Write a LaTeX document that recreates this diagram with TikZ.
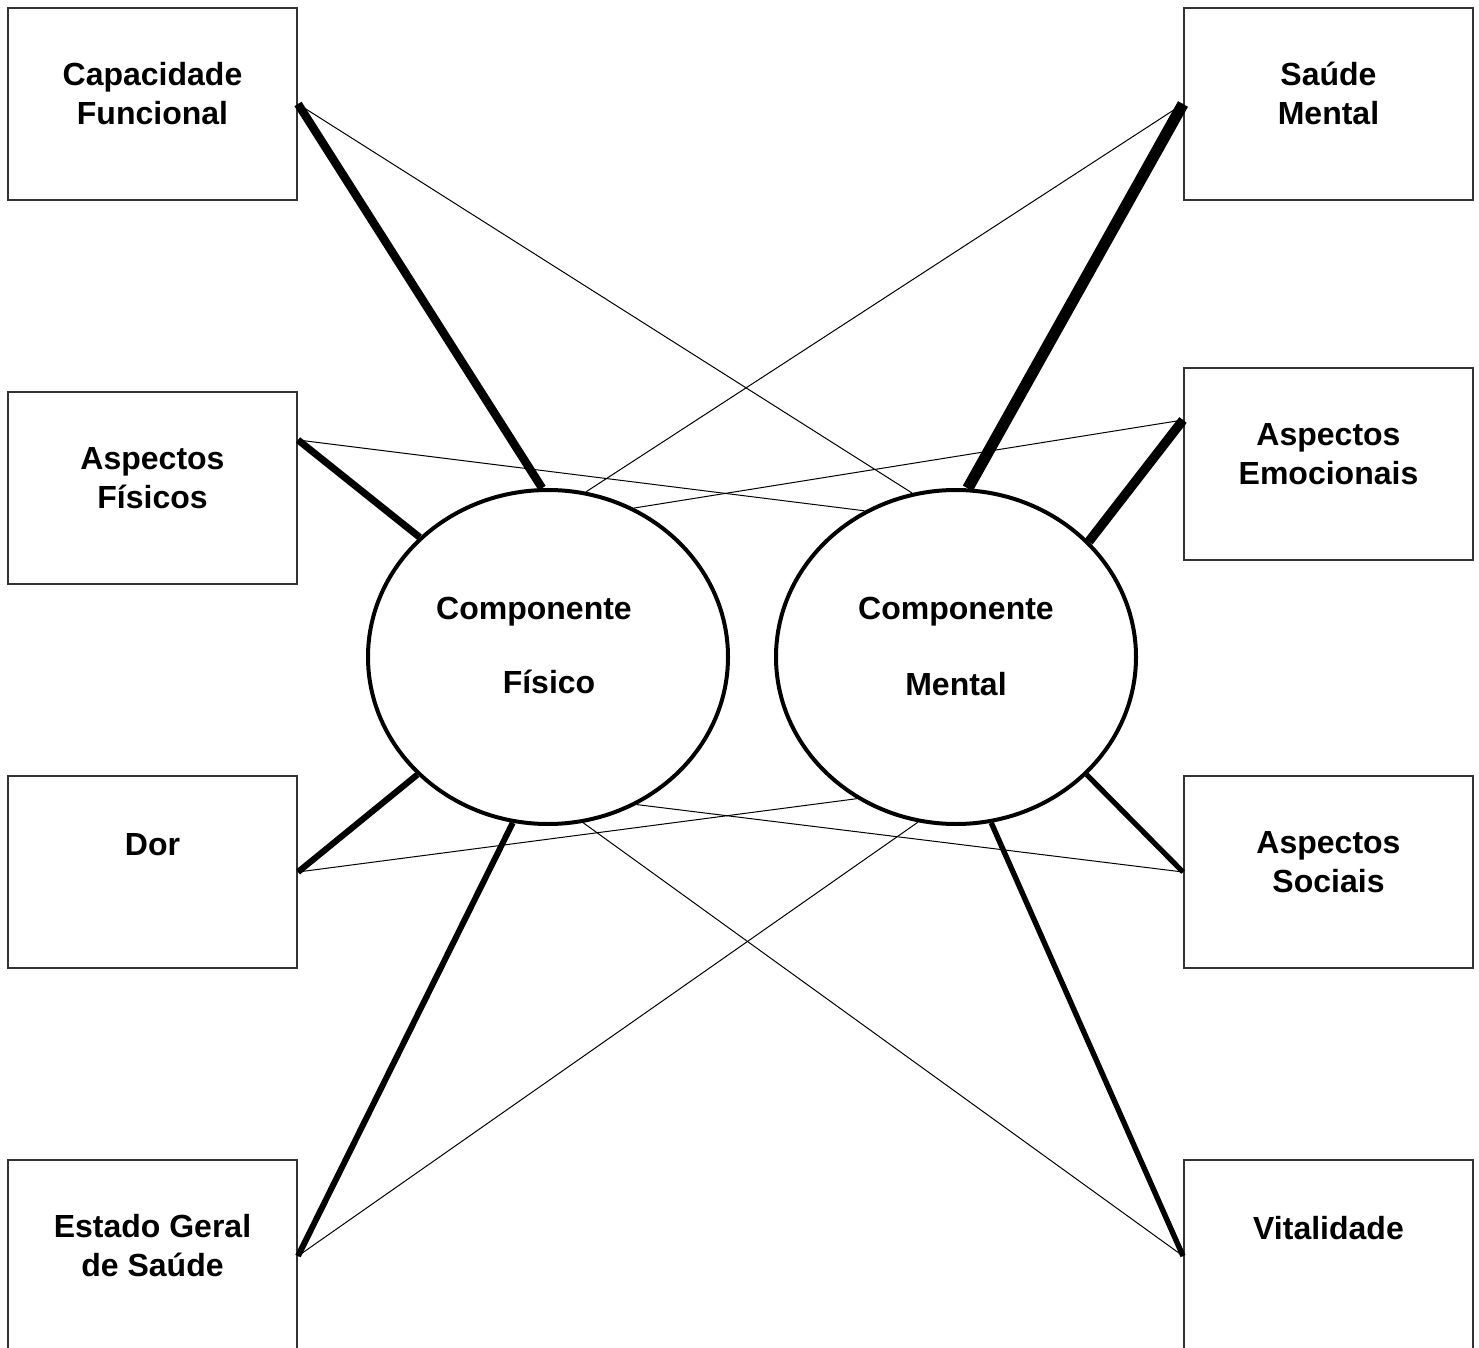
\documentclass[tikz,border=0pt]{standalone}
\usepackage{fontspec}
\setmainfont{Liberation Sans}
\usetikzlibrary{shapes.geometric}
\tikzset{
  box/.style={draw=black!80, line width=1pt, minimum width=144.5pt, minimum height=96pt, inner sep=0pt},
  comp/.style={ellipse, draw, line width=2pt, minimum width=180pt, minimum height=167pt, inner sep=0pt},
  lbl/.style={font=\bfseries\fontsize{16}{19.5}\selectfont, align=center, anchor=base, inner sep=0pt},
  strong/.style={line width=#1, line cap=butt},
  weak/.style={line width=0.5pt},
}
\begin{document}
\begin{tikzpicture}[x=0.5pt,y=-0.5pt]
\useasboundingbox (0,0) rectangle (1479,1348);
\clip (0,0) rectangle (1479,1348);
% boxes
\node[box] (L1) at (152.5,104) {};
\node[box] (L2) at (152.5,488) {};
\node[box] (L3) at (152.5,872) {};
\node[box] (L4) at (152.5,1256) {};
\node[box] (R1) at (1328.5,104) {};
\node[box] (R2) at (1328.5,464) {};
\node[box] (R3) at (1328.5,872) {};
\node[box] (R4) at (1328.5,1256) {};
% labels (base = baseline of last line)
\node[lbl] (tL1) at (152.5,124.5) {Capacidade\\Funcional};
\node[lbl] (tL2) at (152.5,508.5) {Aspectos\\Físicos};
\node[lbl] (tL3) at (152.5,855.5) {Dor};
\node[lbl] (tL4) at (152.5,1276.5) {Estado Geral\\de Saúde};
\node[lbl] (tR1) at (1328.5,124.5) {Saúde\\Mental};
\node[lbl] (tR2) at (1328.5,484.5) {Aspectos\\Emocionais};
\node[lbl] (tR3) at (1328.5,892.5) {Aspectos\\Sociais};
\node[lbl] (tR4) at (1328.5,1239.5) {Vitalidade};
% components
\node[comp] (CL) at (548,657) {};
\node[comp] (CR) at (956,657) {};
\node[lbl] (cL1) at (534,619.5) {Componente};
\node[lbl] (cL2) at (549,693.5) {Físico};
\node[lbl] (cR1) at (956,619.5) {Componente};
\node[lbl] (cR2) at (956,695.5) {Mental};
% attach points
\coordinate (L2a) at ([yshift=24pt]L2.east);
\coordinate (R2a) at ([yshift=22pt]R2.west);
% thin connectors
\draw[weak] (L1.east) -- (CR.105);
\draw[weak] (L2a) -- (CR.122);
\draw[weak] (L3.east) -- (CR.235);
\draw[weak] (L4.east) -- (CR.257.7);
\draw[weak] (R1.west) -- (CL.77.5);
\draw[weak] (R2a) -- (CL.60);
\draw[weak] (R3.west) -- (CL.301);
\draw[weak] (R4.west) -- (CL.282.6);
% thick connectors
\draw[strong=4.2pt] (L1.east) -- (CL.92.7);
\draw[strong=3.5pt] (L2a) -- (CL.137.9);
\draw[strong=3.1pt] (L3.east) -- (CL.222.1);
\draw[strong=3pt] (L4.east) -- (CL.258.2);
\draw[strong=5.7pt] (R1.west) -- (CR.86.3);
\draw[strong=4.7pt] (R2a) -- (CR.41.8);
\draw[strong=2.6pt] (R3.west) -- (CR.318.2);
\draw[strong=2.7pt] (R4.west) -- (CR.282.4);
\end{tikzpicture}
\end{document}
